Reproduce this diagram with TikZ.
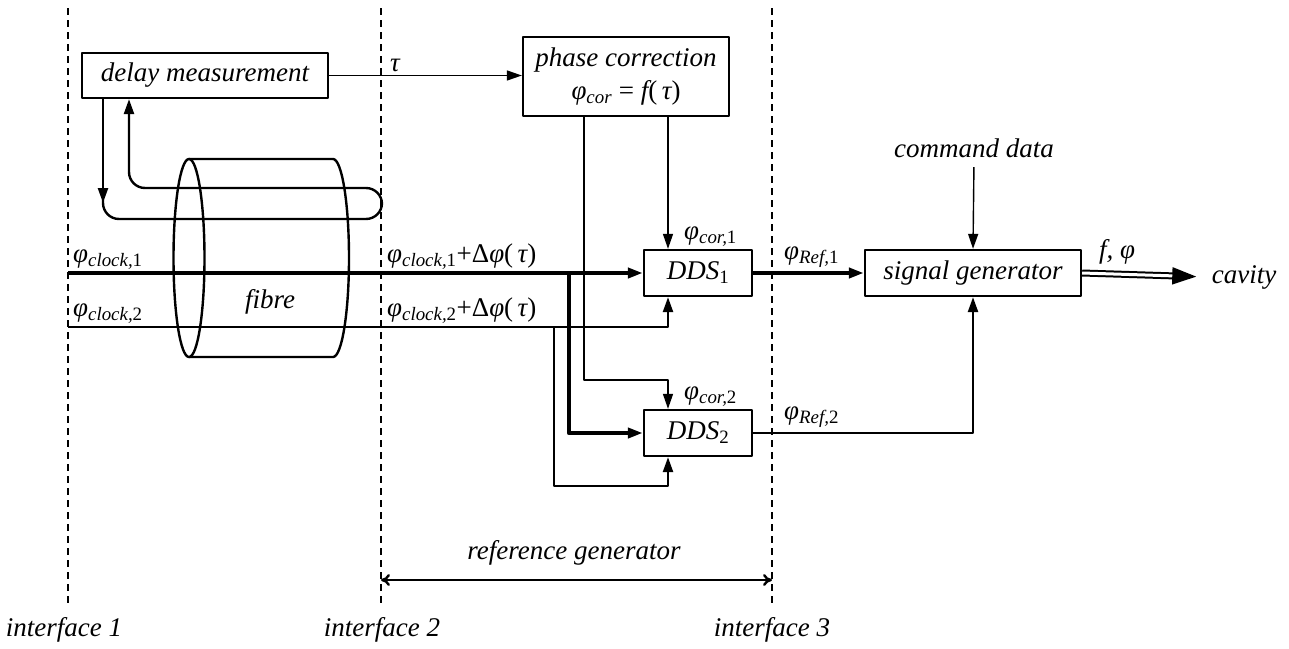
\documentclass[tikz,border=0pt]{standalone}
\usepackage{fontspec}
\setmainfont{Liberation Serif}
\usetikzlibrary{arrows.meta}
\newcommand{\ph}[1]{φ\textsubscript{#1}}
\newcommand{\up}[1]{{\upshape #1}}
\begin{document}
\begin{tikzpicture}[x=1pt,y=-1pt,>={Triangle[length=15pt,width=10pt]},line join=round,font=\fontsize{27}{33}\selectfont\itshape,
	box/.style={draw,line width=2.3pt,inner sep=0pt},
	lab/.style={inner sep=2pt,anchor=south west},
	ctrl/.style={line width=1.4pt},
	sig/.style={line width=2.4pt},
	mainsig/.style={line width=4.2pt},
	iface/.style={line width=2pt,dash pattern=on 7pt off 5pt},
	outsig/.style={line width=2pt,double,double distance=3pt,-{Triangle[length=24pt,width=17pt]}}]
	\useasboundingbox (0,0) rectangle (1289,648);
	\foreach \x in {68,381,772} \draw[iface] (\x,8) -- (\x,605);
	\node[box,minimum width=246,minimum height=45] (dm) at (205,75.5) {delay measurement};
	\node[box,minimum width=206,minimum height=79,align=center] (pc) at (626,76.5) {phase correction\\\ph{cor} \up{=} f\up{(}\,τ\up{)}};
	\node[box,minimum width=108,minimum height=46] (dds1) at (698,273) {DDS\textsubscript{\up1}};
	\node[box,minimum width=108,minimum height=46] (dds2) at (698,433) {DDS\textsubscript{\up2}};
	\node[box,minimum width=216,minimum height=46] (sg) at (973,273) {signal generator};
	\node (cmd) at (974,148) {command data};
	\node (cav) at (1244,277) {cavity};
	\node (fib) at (270,302) {fibre};
	\node (if1) at (64,630) {interface 1};
	\node (if2) at (382,630) {interface 2};
	\node (if3) at (772,630) {interface 3};
	\node (rg) at (574,553) {reference generator};
	\coordinate (c1) at (68,273);
	\coordinate (c2) at (68,327);
	\coordinate (rgl) at (381,580);
	\coordinate (rgr) at (772,580);
	\draw[sig] (189,258) ellipse[x radius=15.5,y radius=99];
	\draw[sig] (189,159) -- (333,159) arc[start angle=-90,end angle=90,x radius=16,y radius=99] -- (189,357);
	\draw[sig,->] (dm.south -| 103,0) -- (103,203);
	\draw[sig,->,rounded corners=16pt] (103,200) |- (382,219) |- (129,188) -- (dm.south -| 129,0);
	\draw[ctrl,->] (dm.east) -- (dm.east -| pc.west);
	\draw[mainsig,->] (c1) -- (dds1.west);
	\draw[sig,->] (c2) -| (dds1.south -| 668,0);
	\draw[mainsig,->] (c1 -| 569,0) |- (dds2.west);
	\draw[sig,->] (c2 -| 554,0) -- (554,486) -| (dds2.south -| 668,0);
	\draw[ctrl,->] (pc.south -| 668,0) -- (dds1.north -| 668,0);
	\draw[ctrl,->] (pc.south -| 584,0) -- (584,380) -| (dds2.north -| 668,0);
	\draw[mainsig,->] (dds1.east) -- (sg.west);
	\draw[sig,->] (dds2.east) -| (sg.south);
	\draw[ctrl,->,shorten <=6pt] (cmd.south) -- (sg.north);
	\draw[outsig,shorten >=12pt] (sg.east) -- (cav.west);
	\draw[sig,{To[length=9pt,width=12pt]}-{To[length=9pt,width=12pt]}] (rgl) -- (rgr);
	\node[lab] at (71,272) {\ph{clock,\up1}};
	\node[lab] at (71,326) {\ph{clock,\up2}};
	\node[lab] at (385,272) {\ph{clock,\up1}\up{+Δ}φ\up{(}\,τ\up{)}};
	\node[lab] at (385,326) {\ph{clock,\up2}\up{+Δ}φ\up{(}\,τ\up{)}};
	\node[lab] at (388,74) {τ};
	\node[lab] at (682,249) {\ph{cor,\up1}};
	\node[lab] at (682,409) {\ph{cor,\up2}};
	\node[lab] at (782,270) {\ph{Ref,\up1}};
	\node[lab] at (782,430) {\ph{Ref,\up2}};
	\node[lab] at (1097,266) {f, φ};
\end{tikzpicture}
\end{document}
